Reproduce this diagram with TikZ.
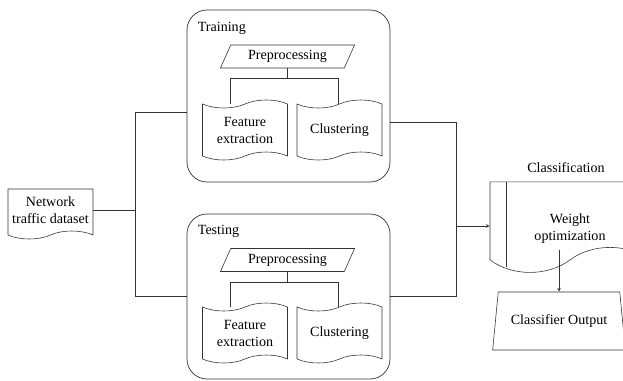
\documentclass[tikz,border=0pt]{standalone}
\usepackage{fontspec}
\setmainfont{Liberation Serif}
\usetikzlibrary{shapes.geometric, shapes.symbols, arrows}
\tikzstyle{group} = [rectangle, rounded corners=0.6cm, minimum width=6.09cm, draw=black!80, line width=0.6pt]
\tikzstyle{grouptitle} = [anchor=west, inner sep=0]
\tikzstyle{io} = [trapezium, trapezium left angle=60, trapezium right angle=120, trapezium stretches=true, minimum width=4.05cm, minimum height=0.69cm, inner sep=0, text centered, draw=black!80, line width=0.5pt]
\tikzstyle{tapebox} = [tape, tape bend top=in and out, tape bend bottom=in and out, tape bend height=0.24cm, minimum width=2.55cm, minimum height=1.8cm, inner sep=0, align=center, draw=black!80, line width=0.5pt]
\tikzstyle{document} = [tape, tape bend top=none, tape bend bottom=in and out, inner sep=0, align=center, draw=black!80, line width=0.5pt]
\tikzstyle{outbox} = [trapezium, trapezium left angle=77, trapezium right angle=77, trapezium stretches=true, minimum width=4.02cm, minimum height=1.74cm, text centered, draw=black!80, line width=0.5pt]
\tikzstyle{link} = [draw=black!80, line width=0.5pt]
\tikzstyle{arrow} = [link, ->, >=stealth]

\begin{document}
\begin{tikzpicture}[node distance=1cm, font=\fontsize{12}{14.5}\selectfont]
\useasboundingbox (0,0) rectangle (18.69,-11.43);

\node (data) [document, tape bend height=0.24cm, minimum width=2.55cm, minimum height=1.5cm] at (1.515,-6.3) {Network\\traffic dataset};

\node (train) [group, minimum height=5.16cm] at (8.655,-2.88) {};
\node (trainTitle) [grouptitle] at ([xshift=0.33cm, yshift=-0.57cm]train.north west) {Training};
\node (pre1) [io] at (8.625,-1.695) {Preprocessing};
\node (fe1) [tapebox, below of=pre1, xshift=-1.275cm, yshift=-1.205cm] {Feature\\extraction};
\node (cl1) [tapebox, right of=fe1, xshift=1.835cm] {Clustering};
\coordinate (fork1) at ([yshift=-0.3cm]pre1.south);
\draw [link] (pre1.south) -- (fork1) -| ([xshift=-0.45cm]fe1.north);
\draw [link] (fork1) -| ([xshift=-0.05cm]cl1.north);

\node (test) [group, minimum height=4.95cm] at (8.655,-8.895) {};
\node (testTitle) [grouptitle] at ([xshift=0.33cm, yshift=-0.54cm]test.north west) {Testing};
\node (pre2) [io] at (8.625,-7.8) {Preprocessing};
\node (fe2) [tapebox, below of=pre2, xshift=-1.275cm, yshift=-1.19cm] {Feature\\extraction};
\node (cl2) [tapebox, right of=fe2, xshift=1.835cm] {Clustering};
\coordinate (fork2) at ([yshift=-0.3cm]pre2.south);
\draw [link] (pre2.south) -- (fork2) -| ([xshift=-0.45cm]fe2.north);
\draw [link] (fork2) -| ([xshift=-0.05cm]cl2.north);

\coordinate (split) at ([xshift=1.26cm]data.east);
\draw [link] (data.east) -- (split) |- ([yshift=-0.48cm]train.west);
\draw [link] (split) |- (test.west);

\node (class) [document, tape bend height=0.75cm, minimum width=4.8cm, minimum height=2.715cm, text height=1.65cm] at (17.1,-6.44) {Weight\\optimization};
\node (classTitle) [above of=class, yshift=0.4cm, xshift=-0.12cm] {Classification};
\draw [link] ([xshift=0.51cm]class.north west) -- ++(0,-2.56cm);
\coordinate (merge) at ([xshift=-0.99cm, yshift=-0.34cm]class.west);
\draw [link] ([yshift=-0.78cm]train.east) -| (merge);
\draw [link] (test.east) -| (merge);
\draw [arrow] (merge) -- (merge -| class.west);

\node (out) [outbox] at (16.77,-9.63) {Classifier Output};
\draw [arrow] ([yshift=-0.06cm]out.north |- class.south) -- (out.north);

\end{tikzpicture}
\end{document}
